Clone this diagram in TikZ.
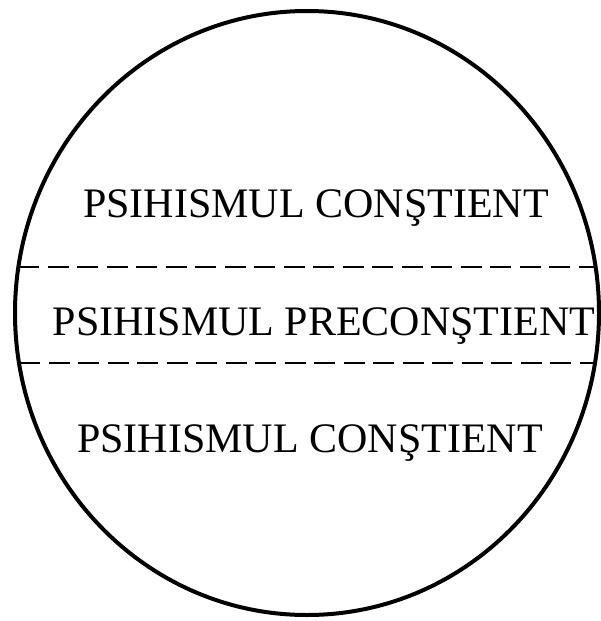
\documentclass[tikz,border=0pt]{standalone}
\usepackage{fontspec}
\setmainfont{Liberation Serif}
\begin{document}
\begin{tikzpicture}[x=1pt, y=-1pt,
    every node/.style={font=\fontsize{42}{50}\selectfont, inner sep=0pt, anchor=base},
    granita/.style={line width=2pt, dash pattern=on 21pt off 8.5pt}]
    \useasboundingbox (0,0) rectangle (600,621);
    % limitele dintre zone
    \coordinate (sus stanga) at (18.4,267);
    \coordinate (sus dreapta) at (595.6,267);
    \coordinate (jos stanga) at (19,363);
    \coordinate (jos dreapta) at (595,363);
    \draw[granita] (sus stanga) -- (sus dreapta);
    \draw[granita] (jos stanga) -- (jos dreapta);
    % psihicul
    \draw[line width=4pt] (307,313) ellipse [x radius=292pt, y radius=302pt];
    \node (constient) at (316,217) {PSIHISMUL CONŞTIENT};
    \node (preconstient) at (324,335) {PSIHISMUL PRECONŞTIENT};
    \node (inconstient) at (310,452) {PSIHISMUL CONŞTIENT};
\end{tikzpicture}
\end{document}
